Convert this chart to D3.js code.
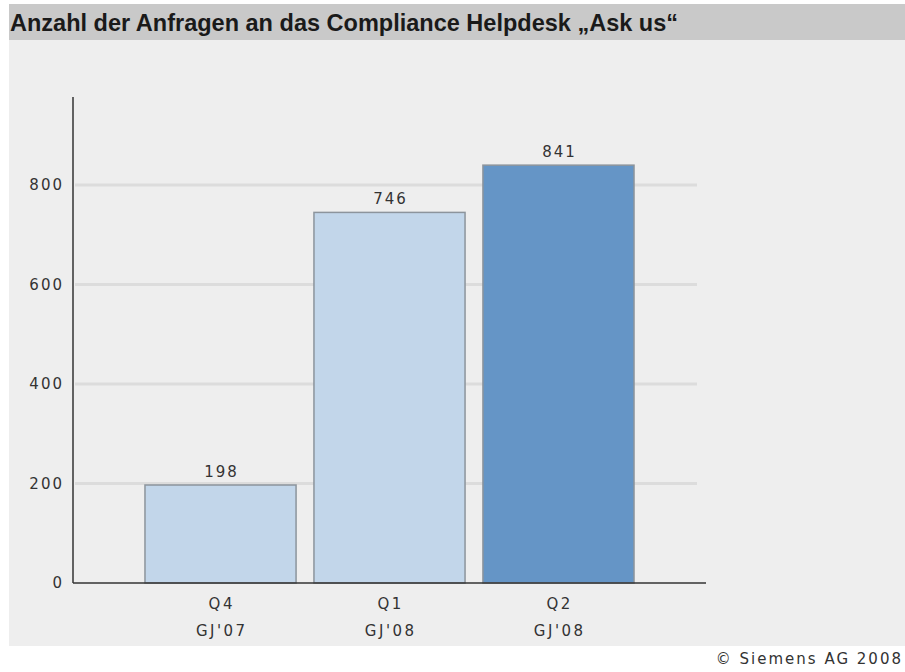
<!DOCTYPE html>
<html>
<head>
<meta charset="utf-8">
<script src="https://cdn.jsdelivr.net/npm/d3@7"></script>
<style>
  html, body { margin: 0; padding: 0; background: #ffffff; }
  svg { display: block; }
</style>
</head>
<body>
<svg id="chart" width="905" height="672"></svg>
<script>
// Helpdesk request counts per quarter
const quarters = ["Q4", "Q1", "Q2"];
const fiscalYears = ["GJ'07", "GJ'08", "GJ'08"];
const requests = [198, 746, 841];
const yTicks = [0, 200, 400, 600, 800];
const barColors = ["#c2d6ea", "#c2d6ea", "#6595c6"];

const titleText = "Anzahl der Anfragen an das Compliance Helpdesk \u201EAsk us\u201C";
const creditText = "\u00A9 Siemens AG 2008";

const labelFont = "'DejaVu Sans', Verdana, sans-serif";
const spacing = 2;

const svg = d3.select("#chart");

// panel and title bar
svg.append("rect").attr("x", 9).attr("y", 40).attr("width", 896).attr("height", 606).attr("fill", "#eeeeee");
svg.append("rect").attr("x", 9).attr("y", 4).attr("width", 896).attr("height", 36).attr("fill", "#c9c9c9");
svg.append("text")
  .attr("x", 10).attr("y", 31)
  .attr("font-family", "'Liberation Sans', Arial, sans-serif")
  .attr("font-weight", "bold").attr("font-size", 24)
  .attr("textLength", 668).attr("lengthAdjust", "spacingAndGlyphs")
  .attr("fill", "#1a1a1a")
  .text(titleText);

const x0 = 73, x1 = 706, yBottom = 583, yTop = 97;

const x = d3.scaleBand()
  .domain(d3.range(requests.length))
  .range([x0, x1])
  .paddingInner(0.1)
  .paddingOuter(0.423);

const y = d3.scaleLinear().domain([0, 977]).range([yBottom, yTop]);

// gridlines
svg.append("g").selectAll("line")
  .data(yTicks.filter(t => t > 0))
  .join("line")
  .attr("x1", x0 + 2).attr("x2", 697)
  .attr("y1", d => y(d)).attr("y2", d => y(d))
  .attr("stroke", "#dcdcdc").attr("stroke-width", 3);

// bars
svg.append("g").selectAll("rect")
  .data(requests)
  .join("rect")
  .attr("x", (d, i) => x(i) + 0.5)
  .attr("y", d => y(d) + 0.5)
  .attr("width", x.bandwidth() - 1)
  .attr("height", d => yBottom - y(d) - 0.5)
  .attr("fill", (d, i) => barColors[i])
  .attr("stroke", "#8c949c").attr("stroke-width", 1.5);

// value labels
svg.append("g").selectAll("text")
  .data(requests)
  .join("text")
  .attr("x", (d, i) => x(i) + x.bandwidth() / 2 + spacing / 2)
  .attr("y", d => y(d) - 8)
  .attr("text-anchor", "middle")
  .attr("font-family", labelFont)
  .attr("font-size", 15).attr("letter-spacing", spacing).attr("fill", "#333")
  .text(d => d);

// y axis
const yAxis = d3.axisLeft(y).tickValues(yTicks).tickSize(0).tickPadding(9);
const gy = svg.append("g").attr("transform", `translate(${x0},0)`).call(yAxis);
gy.select(".domain").remove();
gy.selectAll("text")
  .attr("font-family", labelFont)
  .attr("font-size", 15).attr("letter-spacing", spacing).attr("fill", "#333");
svg.append("line").attr("x1", x0).attr("x2", x0).attr("y1", yTop).attr("y2", yBottom)
  .attr("stroke", "#333").attr("stroke-width", 1.5);

// x axis
const xAxis = d3.axisBottom(x).tickSize(0).tickFormat(() => "");
const gx = svg.append("g").attr("transform", `translate(0,${yBottom})`).call(xAxis);
gx.select(".domain").remove();
svg.append("line").attr("x1", x0).attr("x2", x1).attr("y1", yBottom).attr("y2", yBottom)
  .attr("stroke", "#333").attr("stroke-width", 1.5);

const catLabels = svg.append("g").selectAll("text")
  .data(quarters)
  .join("text")
  .attr("text-anchor", "middle")
  .attr("font-family", labelFont)
  .attr("font-size", 15).attr("letter-spacing", spacing + 0.5).attr("fill", "#333");
catLabels.append("tspan")
  .attr("x", (d, i) => x(i) + x.bandwidth() / 2 + 1.25).attr("y", 609)
  .text(d => d);
catLabels.append("tspan")
  .attr("x", (d, i) => x(i) + x.bandwidth() / 2 + 1.25).attr("y", 636)
  .text((d, i) => fiscalYears[i]);

// credit line, right-aligned to the page edge
svg.append("text")
  .attr("x", 903).attr("y", 664)
  .attr("text-anchor", "end")
  .attr("font-family", labelFont)
  .attr("font-size", 15).attr("letter-spacing", 2).attr("fill", "#333")
  .text(creditText);
</script>
</body>
</html>
